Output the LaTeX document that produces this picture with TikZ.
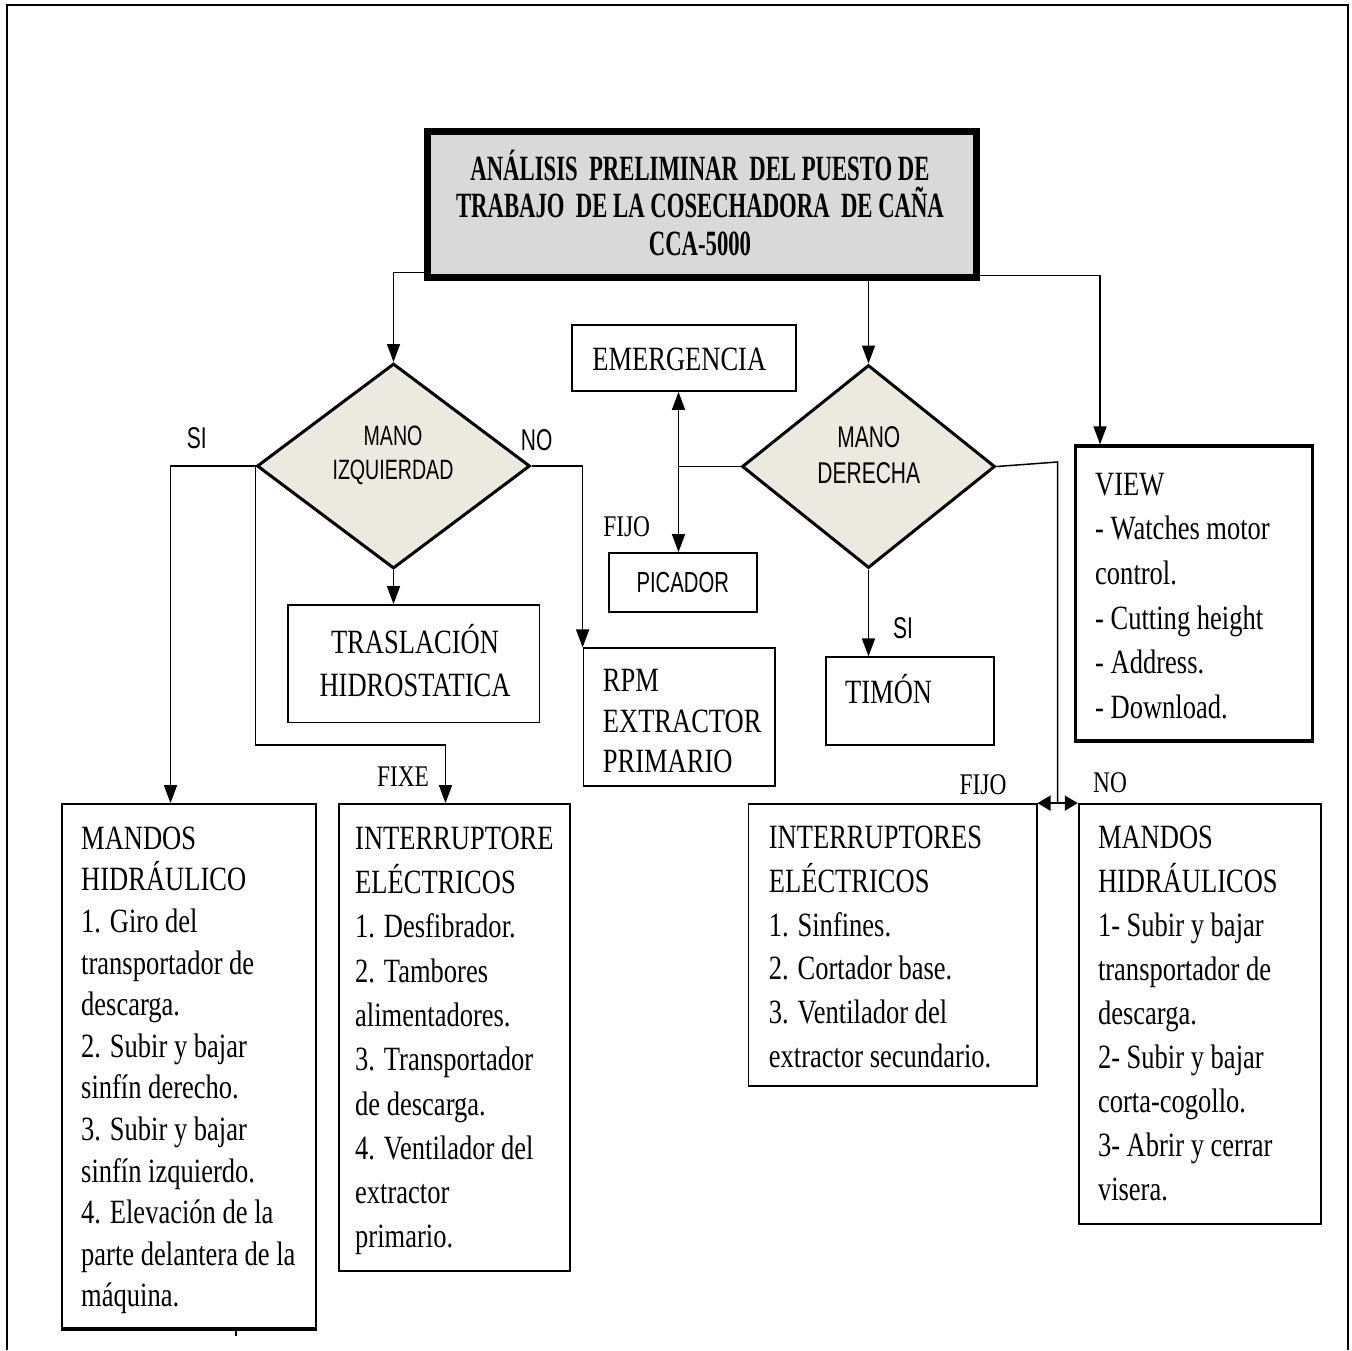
\documentclass[tikz,border=0pt]{standalone}
\usepackage{fontspec}
\usetikzlibrary{arrows.meta}
\usetikzlibrary{shapes.geometric}
\newfontfamily\serifc[FakeStretch=0.78]{Liberation Serif}
\newfontfamily\titlec[FakeStretch=0.64]{Liberation Serif}
\newfontfamily\sansc[FakeStretch=0.7]{Liberation Sans}
\definecolor{titlegray}{RGB}{217,217,217}
\definecolor{decisionfill}{RGB}{236,234,224}
\newcommand\capstrut{\rule{0pt}{33pt}}
\tikzstyle{arr}=[line width=1.5pt,-{Triangle[length=18pt,width=13pt]}]
\tikzstyle{dblarr}=[line width=1.5pt,{Triangle[length=18pt,width=13pt]}-{Triangle[length=18pt,width=13pt]}]
\tikzstyle{sidearr}=[line width=1.5pt,{Triangle[length=13pt,width=15pt]}-{Triangle[length=13pt,width=15pt]}]
\tikzstyle{box}=[draw,line width=1.8pt,rectangle,inner sep=0pt]
\tikzstyle{decision}=[draw,line width=3pt,diamond,fill=decisionfill,inner sep=0pt]
\tikzset{boxtext/.style={font=\serifc\fontsize{34}{#1}\selectfont,align=left,anchor=north west,inner sep=0pt},boxtext/.default=44}
\tikzstyle{lbl}=[font=\serifc\fontsize{30}{36}\selectfont,inner sep=0pt]
\tikzstyle{slbl}=[font=\sansc\fontsize{30}{36}\selectfont,inner sep=0pt]

\begin{document}
\begin{tikzpicture}[x=1pt,y=-1pt]
	\useasboundingbox (0,0) rectangle (1352,1350);
	\draw[line width=1.5pt] (7,1350) -- (7,5) -- (1348,5) -- (1348,1350);
	\draw[line width=2.5pt] (7,5) -- (1348,5);

	\node[box,line width=7pt,fill=titlegray,minimum width=549pt,minimum height=146pt] (title) at (701.5,204) {};
	\node[font=\titlec\bfseries\fontsize{35.5}{37.5}\selectfont,align=center,anchor=north,inner sep=0pt] (titletxt) at (700,147)
		{\capstrut ANÁLISIS\ \ PRELIMINAR\ \ DEL PUESTO DE\\TRABAJO\ \ DE LA COSECHADORA\ \ DE CAÑA\\CCA-5000};

	\node[decision,minimum width=273pt,minimum height=205pt] (izq) at (393.5,466) {};
	\node[font=\sansc\fontsize{28}{33.3}\selectfont,align=center,anchor=north,inner sep=0pt] (izqtxt) at (393,412.7) {\capstrut MANO\\IZQUIERDAD};
	\node[decision,minimum width=253pt,minimum height=203pt] (der) at (868.5,466.5) {};
	\node[font=\sansc\fontsize{30}{36}\selectfont,align=center,anchor=north,inner sep=0pt] (dertxt) at (868.8,414.3) {\capstrut MANO\\DERECHA};

	\node[box,minimum width=224pt,minimum height=66pt] (emerg) at (684,358) {};
	\node[boxtext,anchor=base] (emergtxt) at (679.3,370.7) {EMERGENCIA};
	\node[box,minimum width=148pt,minimum height=59pt] (picador) at (683,582.5) {};
	\node[font=\sansc\fontsize{29}{35}\selectfont,inner sep=0pt,anchor=base] (picadortxt) at (682.8,592.7) {PICADOR};
	\node[box,minimum width=251.5pt,minimum height=117.5pt] (trasl) at (413.75,663.75) {};
	\node[boxtext=43.4,anchor=north,align=center] (trasltxt) at (415,620.3) {\capstrut TRASLACIÓN\\HIDROSTATICA};
	\node[box,minimum width=191.5pt,minimum height=137.4pt] (rpm) at (679.25,717) {};
	\node[boxtext=40.5] (rpmtxt) at (602.7,658.7) {\capstrut RPM\\EXTRACTOR\\PRIMARIO};
	\node[box,minimum width=168.6pt,minimum height=87.7pt] (timon) at (910,701.15) {};
	\node[boxtext,anchor=base west] (timontxt) at (845,703.3) {TIMÓN};
	\node[box,line width=3.3pt,minimum width=236.6pt,minimum height=295pt] (view) at (1194,593.5) {};
	\node[boxtext=44.6] (viewtxt) at (1095,462)
		{\capstrut VIEW\\- Watches motor\\control.\\- Cutting height\\- Address.\\- Download.};

	\node[box,minimum width=254pt,minimum height=524pt] (mandL) at (189,1066) {};
	\node[boxtext=41.6] (mandLtxt) at (81,816)
		{\capstrut MANDOS\\HIDRÁULICO\\1. Giro del\\transportador de\\descarga.\\2. Subir y bajar\\sinfín derecho.\\3. Subir y bajar\\sinfín izquierdo.\\4. Elevación de la\\parte delantera de la\\máquina.};
	\node[box,minimum width=231pt,minimum height=467pt] (intL) at (454.5,1037.5) {};
	\node[boxtext=44.3] (intLtxt) at (355,816)
		{\capstrut INTERRUPTORE\\ELÉCTRICOS\\1. Desfibrador.\\2. Tambores\\alimentadores.\\3. Transportador\\de descarga.\\4. Ventilador del\\extractor\\primario.};
	\node[box,minimum width=288.2pt,minimum height=282pt] (intR) at (892.5,945) {};
	\node[boxtext=43.8] (intRtxt) at (768.7,815.3)
		{\capstrut INTERRUPTORES\\ELÉCTRICOS\\1. Sinfines.\\2. Cortador base.\\3. Ventilador del\\extractor secundario.};
	\node[box,minimum width=242.3pt,minimum height=420.3pt] (mandR) at (1199.85,1014.15) {};
	\node[boxtext] (mandRtxt) at (1097.8,815.3)
		{\capstrut MANDOS\\HIDRÁULICOS\\1- Subir y bajar\\transportador de\\descarga.\\2- Subir y bajar\\corta-cogollo.\\3- Abrir y cerrar\\visera.};

	\node[slbl] (si1) at (196.7,438) {SI};
	\node[slbl] (no1) at (536.7,440) {NO};
	\node[lbl] (fijo1) at (626.7,526.7) {FIJO};
	\node[lbl] (fixe) at (403,776.7) {FIXE};
	\node[slbl] (si2) at (903,628.3) {SI};
	\node[lbl] (fijo2) at (983,785) {FIJO};
	\node[lbl] (no2) at (1110,783) {NO};

	\coordinate (fk) at (256.5,745);
	\coordinate (fork) at (678.5,466.5);
	\coordinate (split) at (1057.5,462);
	\draw[arr] ([yshift=8pt]title.south west) -| (izq.north);
	\draw[arr] (title.south -| der.north) -- (der.north);
	\draw[arr] ([yshift=5pt]title.south east) -| ([xshift=26pt]view.north west);
	\draw[arr] (izq.west) -| ([xshift=-18.5pt]mandL.north);
	\draw[arr] (izq.west) -- (izq.west |- fk) -| ([xshift=-9pt]intL.north);
	\draw[arr] (izq.south) -- (izq.south |- trasl.north);
	\draw[arr] (izq.east) -| (rpm.north west);
	\draw[line width=1.5pt] (der.west) -- (fork);
	\draw[dblarr] (emerg.south -| fork) -- (picador.north -| fork);
	\draw[arr] (der.south) -- (der.south |- timon.north);
	\draw[line width=1.5pt] (der.east) -- (split) -- (split |- intR.north east);
	\draw[sidearr] (intR.north east) -- (mandR.north west);
	\draw[line width=2.5pt] ([yshift=-1pt]mandL.south west) -- ([yshift=-1pt]mandL.south east);
	\draw[line width=1.5pt] ([xshift=47pt]mandL.south) -- ++(0,7);
\end{tikzpicture}
\end{document}
